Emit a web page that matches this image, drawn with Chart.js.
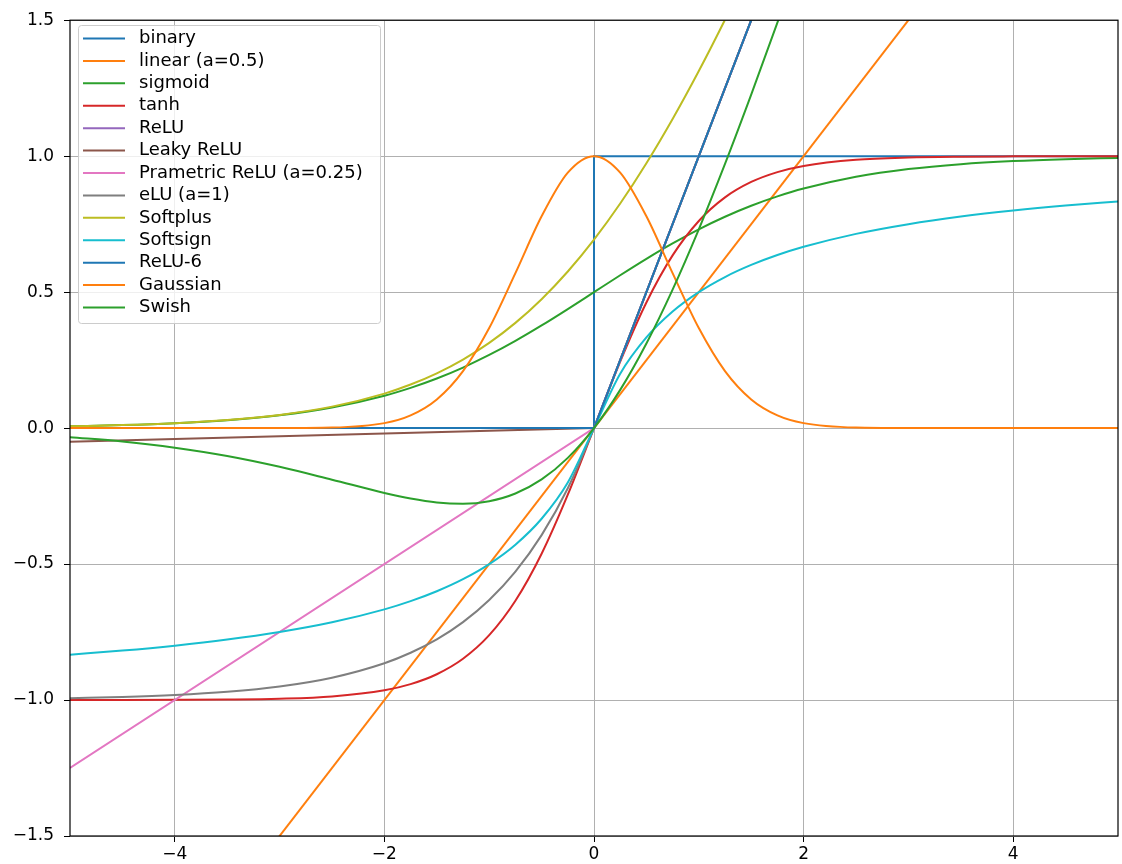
<!DOCTYPE html>
<html>
<head>
<meta charset="utf-8">
<script src="https://cdn.jsdelivr.net/npm/chart.js@4"></script>
<style>
  html, body { margin: 0; padding: 0; background: #fff; }
  #wrap { width: 1122px; height: 864px; }
</style>
</head>
<body>
<div id="wrap"><canvas id="actChart" width="1122" height="864"></canvas></div>
<script>
// sample positions shared by the smooth curves
const xs = [-5, -4.5, -4, -3.5, -3, -2.5, -2, -1.75, -1.5, -1.25, -1, -0.75, -0.5, -0.25, 0,
    0.25, 0.5, 0.75, 1, 1.25, 1.5, 1.75, 2, 2.5, 3, 3.5, 4, 4.5, 5];

const sigmoidY = [0.0067, 0.0110, 0.0180, 0.0293, 0.0474, 0.0759, 0.1192, 0.1480, 0.1824, 0.2227, 0.2689, 0.3208, 0.3775, 0.4378, 0.5,
    0.5622, 0.6225, 0.6792, 0.7311, 0.7773, 0.8176, 0.8520, 0.8808, 0.9241, 0.9526, 0.9707, 0.9820, 0.9890, 0.9933];
const tanhY = [-0.9999, -0.9998, -0.9993, -0.9982, -0.9951, -0.9866, -0.9640, -0.9414, -0.9051, -0.8483, -0.7616, -0.6351, -0.4621, -0.2449, 0,
    0.2449, 0.4621, 0.6351, 0.7616, 0.8483, 0.9051, 0.9414, 0.9640, 0.9866, 0.9951, 0.9982, 0.9993, 0.9998, 0.9999];
const eluY = [-0.9933, -0.9889, -0.9817, -0.9698, -0.9502, -0.9179, -0.8647, -0.8262, -0.7769, -0.7135, -0.6321, -0.5276, -0.3935, -0.2212, 0,
    0.25, 0.5, 0.75, 1, 1.25, 1.5, 1.75, 2, 2.5, 3, 3.5, 4, 4.5, 5];
const softplusY = [0.0067, 0.0110, 0.0181, 0.0298, 0.0486, 0.0789, 0.1269, 0.1602, 0.2014, 0.2519, 0.3133, 0.3869, 0.4741, 0.5759, 0.6931,
    0.8259, 0.9741, 1.1369, 1.3133, 1.5019, 1.7014, 1.9102, 2.1269, 2.5789, 3.0486, 3.5298, 4.0181, 4.5110, 5.0067];
const softsignY = [-0.8333, -0.8182, -0.8, -0.7778, -0.75, -0.7143, -0.6667, -0.6364, -0.6, -0.5556, -0.5, -0.4286, -0.3333, -0.2, 0,
    0.2, 0.3333, 0.4286, 0.5, 0.5556, 0.6, 0.6364, 0.6667, 0.7143, 0.75, 0.7778, 0.8, 0.8182, 0.8333];
const gaussY = [0, 0, 0, 0, 0.0001, 0.0019, 0.0183, 0.0468, 0.1054, 0.2096, 0.3679, 0.5698, 0.7788, 0.9394, 1,
    0.9394, 0.7788, 0.5698, 0.3679, 0.2096, 0.1054, 0.0468, 0.0183, 0.0019, 0.0001, 0, 0, 0, 0];
const swishY = [-0.0335, -0.0493, -0.0719, -0.1025, -0.1423, -0.1897, -0.2384, -0.2590, -0.2736, -0.2784, -0.2689, -0.2406, -0.1888, -0.1095, 0,
    0.1405, 0.3112, 0.5094, 0.7311, 0.9716, 1.2264, 1.4910, 1.7616, 2.3103, 2.8577, 3.3975, 3.9281, 4.4505, 4.9665];

// piecewise straight ones
const binaryX = [-5, 0, 0, 5];
const binaryY = [0, 0, 1, 1];
const linearX = [-5, 5];
const linearY = [-2.5, 2.5];
const kinkX = [-5, 0, 5];
const reluY = [0, 0, 5];
const leakyY = [-0.05, 0, 5];
const preluY = [-1.25, 0, 5];
const relu6Y = [0, 0, 5];

const xTicks = [-4, -2, 0, 2, 4];
const xTickLabels = ['\u22124', '\u22122', '0', '2', '4'];
const yTicks = [-1.5, -1, -0.5, 0, 0.5, 1, 1.5];
const yTickLabels = ['\u22121.5', '\u22121.0', '\u22120.5', '0.0', '0.5', '1.0', '1.5'];

const FONT = 'DejaVu Sans';

function pts(x, y) {
    return x.map((v, i) => ({ x: v, y: y[i] }));
}

function series(label, color, x, y, smooth) {
    return {
        label: label,
        data: pts(x, y),
        borderColor: color,
        backgroundColor: color,
        borderWidth: 2,
        pointRadius: 0,
        fill: false,
        tension: 0,
        cubicInterpolationMode: smooth ? 'monotone' : 'default'
    };
}

const datasets = [
    series('binary', '#1f77b4', binaryX, binaryY, false),
    series('linear (a=0.5)', '#ff7f0e', linearX, linearY, false),
    series('sigmoid', '#2ca02c', xs, sigmoidY, true),
    series('tanh', '#d62728', xs, tanhY, true),
    series('ReLU', '#9467bd', kinkX, reluY, false),
    series('Leaky ReLU', '#8c564b', kinkX, leakyY, false),
    series('Prametric ReLU (a=0.25)', '#e377c2', kinkX, preluY, false),
    series('eLU (a=1)', '#7f7f7f', xs, eluY, true),
    series('Softplus', '#bcbd22', xs, softplusY, true),
    series('Softsign', '#17becf', xs, softsignY, true),
    series('ReLU-6', '#1f77b4', kinkX, relu6Y, false),
    series('Gaussian', '#ff7f0e', xs, gaussY, true),
    series('Swish', '#2ca02c', xs, swishY, true)
];
// later series sit on top, like matplotlib
datasets.forEach((ds, i) => { ds.order = datasets.length - i; });

// frame round the plot area
const framePlugin = {
    id: 'frame',
    afterDraw(chart) {
        const { ctx, chartArea: a } = chart;
        ctx.save();
        ctx.strokeStyle = '#000';
        ctx.lineWidth = 1.2;
        ctx.strokeRect(a.left, a.top, a.right - a.left, a.bottom - a.top);
        ctx.restore();
    }
};

// legend box in the upper left corner
const boxLegend = {
    id: 'boxLegend',
    afterDatasetsDraw(chart) {
        const ctx = chart.ctx;
        const bx = 78, by = 25, bw = 302, bh = 298;
        ctx.save();
        ctx.beginPath();
        ctx.roundRect(bx + 0.5, by + 0.5, bw, bh, 3);
        ctx.fillStyle = 'rgba(255,255,255,0.8)';
        ctx.fill();
        ctx.strokeStyle = '#cccccc';
        ctx.lineWidth = 1;
        ctx.stroke();

        ctx.font = '18px "' + FONT + '"';
        ctx.textBaseline = 'middle';
        ctx.textAlign = 'left';
        chart.data.datasets.forEach((ds, i) => {
            const y = 38.5 + i * 22.42;
            ctx.beginPath();
            ctx.moveTo(83, y);
            ctx.lineTo(125, y);
            ctx.strokeStyle = ds.borderColor;
            ctx.lineWidth = 2;
            ctx.stroke();
            ctx.fillStyle = '#000';
            ctx.fillText(ds.label, 139, y);
        });
        ctx.restore();
    }
};

new Chart(document.getElementById('actChart'), {
    type: 'line',
    data: { datasets: datasets },
    options: {
        responsive: false,
        animation: false,
        devicePixelRatio: 1,
        layout: { padding: { top: 18, right: 4, left: 0, bottom: 0 } },
        plugins: {
            legend: { display: false },
            tooltip: { enabled: false }
        },
        scales: {
            x: {
                type: 'linear',
                min: -5,
                max: 5,
                afterBuildTicks: (s) => { s.ticks = xTicks.map(v => ({ value: v })); },
                afterFit: (s) => { s.height = 28; },
                border: { display: false },
                grid: { color: '#b0b0b0', lineWidth: 1, tickColor: '#000', tickLength: 6 },
                ticks: {
                    color: '#000',
                    padding: 2,
                    maxRotation: 0,
                    font: { family: FONT, size: 17 },
                    callback: (v) => xTickLabels[xTicks.indexOf(v)]
                }
            },
            y: {
                min: -1.5,
                max: 1.5,
                afterBuildTicks: (s) => { s.ticks = yTicks.map(v => ({ value: v })); },
                afterFit: (s) => { s.width = 70; },
                border: { display: false },
                grid: { color: '#b0b0b0', lineWidth: 1, tickColor: '#000', tickLength: 6 },
                ticks: {
                    color: '#000',
                    padding: 10,
                    font: { family: FONT, size: 17 },
                    callback: (v) => yTickLabels[yTicks.indexOf(v)]
                }
            }
        }
    },
    plugins: [framePlugin, boxLegend]
});
</script>
</body>
</html>
